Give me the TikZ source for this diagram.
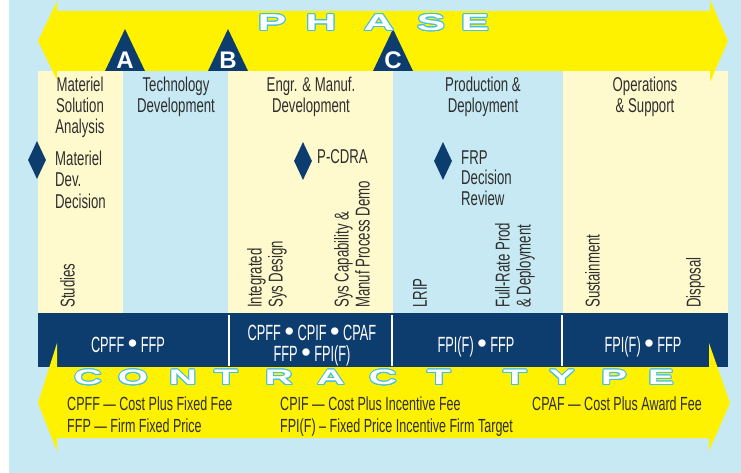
\documentclass[tikz,border=0pt]{standalone}
\usepackage{fontspec}
\setmainfont[FakeStretch=0.66]{Liberation Sans}
\newfontfamily\bandfont[FakeStretch=0.58]{Liberation Sans}
\newfontfamily\dotfont{Liberation Sans}
\newfontfamily\widefont[FakeStretch=1.85]{Liberation Sans Bold}
\newfontfamily\markfont{Liberation Sans Bold}
\newcommand{\dotsep}{{\dotfont\fontsize{27}{21}\selectfont •}}
\usepackage[copies]{contour}
\contourlength{1pt}
\contournumber{16}
\usetikzlibrary{shapes.geometric}
\definecolor{skyblue}{HTML}{C6E9F3}
\definecolor{cream}{HTML}{FFFACD}
\definecolor{phaseyellow}{HTML}{FFF200}
\definecolor{navy}{HTML}{0D3C6E}
\definecolor{rimcyan}{HTML}{45C0E6}
\definecolor{ink}{HTML}{2E2E2E}
\tikzset{
  coltext/.style={font=\fontsize{20}{21}\selectfont, text=ink, inner sep=0pt, align=center, anchor=base},
  gatetext/.style={font=\fontsize{20}{21}\selectfont, text=ink, inner sep=0pt, align=left, anchor=base west},
  sidetext/.style={font=\fontsize{20}{21}\selectfont, text=ink, inner sep=0pt, align=left, rotate=90, anchor=south west},
  bandtext/.style={font=\bandfont\fontsize{22}{21}\selectfont, text=white, inner sep=0pt, align=center, anchor=base},
  keytext/.style={font=\fontsize{19}{22}\selectfont, text=ink, inner sep=0pt, align=left, anchor=base west},
  bigtype/.style={font=\widefont\fontsize{#1}{#1}\selectfont, text=white, inner sep=0pt},
  bigtype/.default=23,
  gate/.style={diamond, fill=navy, inner sep=0pt, minimum width=18pt, minimum height=38pt},
  milestone/.style={font=\markfont\fontsize{24}{24}\selectfont, text=white, inner sep=0pt}
}
\begin{document}
\begin{tikzpicture}[x=1pt,y=1pt]
\useasboundingbox (0,0) rectangle (741,-473);
\fill[white] (0,0) rectangle (741,-473);
\fill[skyblue] (9,0) rectangle (741,-473);
\foreach \xa/\xb/\col in {38/123/cream,123/228/skyblue,228/393/cream,393/563/skyblue,563/728/cream}
  \fill[\col] (\xa,-71) rectangle (\xb,-313);
\fill[navy] (38,-313) rectangle (728,-367);
\foreach \x in {229,392,562} \draw[white, line width=1.6pt] (\x,-315) -- (\x,-366);
\fill[phaseyellow] (38,-41) -- (57,-1) -- (57,-11) -- (710,-11) -- (710,0) -- (728,-41) -- (710,-82) -- (710,-71) -- (57,-71) -- (57,-80) -- cycle;
\foreach \m/\x in {A/125,B/228,C/393} {
  \fill[navy] (\x-20,-71) -- (\x,-29) -- (\x+20,-71) -- cycle;
  \node[milestone] (ms\m) at (\x,-60) {\m};
}
\foreach \ch/\x [count=\i] in {P/272,H/321,A/379,S/431,E/475}
  \node[bigtype] (ph\i) at (\x,-23) {\contour{rimcyan}{\ch}};
\fill[phaseyellow] (38,-403) -- (57,-343) -- (57,-367) -- (709,-367) -- (709,-343) -- (730,-403) -- (709,-451) -- (709,-438) -- (57,-438) -- (57,-451) -- cycle;
\foreach \ch/\x [count=\i] in {C/88,O/133,N/183,T/226,R/279,A/331,C/383,T/439,T/515,Y/562,P/614,E/661}
  \node[bigtype=21] (ct\i) at (\x,-378) {\contour{rimcyan}{\ch}};

\node[coltext] (msa) at (80,-134) {Materiel\\Solution\\Analysis};
\node[coltext] (td) at (176,-113) {Technology\\Development};
\node[coltext] (emd) at (311,-113) {Engr. \& Manuf.\\Development};
\node[coltext] (pd) at (483,-113) {Production \&\\Deployment};
\node[coltext] (os) at (645,-113) {Operations\\\& Support};

\node[gate] (mdd) at (37,-160) {};
\node[gatetext, font=\fontsize{20}{21.5}\selectfont] (mddtext) at (55,-208) {Materiel\\Dev.\\Decision};
\node[gate] (pcdra) at (303,-161) {};
\node[gatetext] (pcdratext) at (317,-164) {P-CDRA};
\node[gate] (frp) at (443,-161) {};
\node[gatetext, font=\fontsize{20}{20.5}\selectfont] (frptext) at (461,-205) {FRP\\Decision\\Review};

\node[sidetext] (studies) at (75,-308) {Studies};
\node[sidetext] (isd) at (287,-308) {Integrated\\Sys Design};
\node[sidetext] (scmpd) at (370,-308) {Sys Capability \&\\Manuf Process Demo};
\node[sidetext] (lrip) at (427,-308) {LRIP};
\node[sidetext] (frpd) at (535,-308) {Full-Rate Prod\\\& Deployment};
\node[sidetext] (sust) at (600,-308) {Sustainment};
\node[sidetext] (disp) at (705,-308) {Disposal};

\node[bandtext] (band1) at (128,-352) {CPFF \dotsep{} FFP};
\node[bandtext] (band2) at (312,-361) {CPFF \dotsep{} CPIF \dotsep{} CPAF\\FFP \dotsep{} FPI(F)};
\node[bandtext] (band3) at (476,-352) {FPI(F) \dotsep{} FFP};
\node[bandtext] (band4) at (643,-352) {FPI(F) \dotsep{} FFP};

\node[keytext] (key1) at (67,-432) {CPFF — Cost Plus Fixed Fee\\FFP — Firm Fixed Price};
\node[keytext] (key2) at (280,-432) {CPIF — Cost Plus Incentive Fee\\FPI(F) – Fixed Price Incentive Firm Target};
\node[keytext] (key3) at (532,-410) {CPAF — Cost Plus Award Fee};
\end{tikzpicture}
\end{document}
